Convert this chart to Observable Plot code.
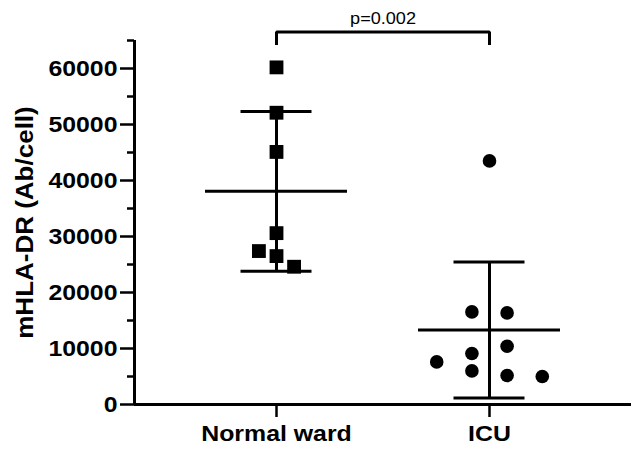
<!DOCTYPE html>
<html>
<head>
<meta charset="utf-8">
<script src="https://cdn.jsdelivr.net/npm/d3@7"></script>
<script src="https://cdn.jsdelivr.net/npm/@observablehq/plot@0.6"></script>
<style>
  html, body { margin: 0; padding: 0; background: #fff; }
  #chart svg { display: block; }
</style>
</head>
<body>
<div id="chart"></div>
<script>
// Categories
const groups = ["Normal ward", "ICU"];
// Normal ward values (squares) and their swarm column offsets
const normalValues = [60200, 52100, 45100, 30600, 27400, 26500, 24600];
const normalCols   = [0, 0, 0, 0, -1, 0, 1];
// ICU values (circles) and their swarm column offsets
const icuValues = [43500, 16540, 16360, 10410, 9110, 7610, 6000, 5180, 5000];
const icuCols   = [0, -1, 1, 1, -1, -3, -1, 1, 3];
// Y ticks
const yTicks = [0, 10000, 20000, 30000, 40000, 50000, 60000];
const yMinorTicks = [5000, 15000, 25000, 35000, 45000, 55000, 65000];
// Significance annotation
const pLabel = "p=0.002";
const bracketY = 66500;
const bracketLegY = 64200;

const colW = 0.0826;
const xMin = -0.6667, xMax = 1.6667;

const points = [
  ...normalValues.map((v, i) => ({g: 0, v, c: normalCols[i]})),
  ...icuValues.map((v, i) => ({g: 1, v, c: icuCols[i]}))
];
const stats = [normalValues, icuValues].map((vals, g) => ({
  g, mean: d3.mean(vals), sd: d3.deviation(vals)
}));

const svg = Plot.plot({
  width: 631,
  height: 452,
  marginLeft: 134,
  marginRight: 0,
  marginTop: 40,
  marginBottom: 48,
  style: {fontFamily: "'Liberation Sans', Arial, sans-serif", background: "#fff", overflow: "visible"},
  x: {domain: [xMin, xMax], axis: null},
  y: {domain: [0, 65000], axis: null},
  marks: [
    // minor y ticks
    Plot.axisY(yMinorTicks, {tickSize: 7, strokeWidth: 2.5, text: null, anchor: "left"}),
    // major y ticks + label
    Plot.axisY(yTicks, {
      anchor: "left", tickSize: 14, tickPadding: 3, strokeWidth: 2.5,
      fontSize: 22, fontWeight: "bold", fill: "#000",
      tickFormat: d => String(d),
      label: "mHLA-DR (Ab/cell)", labelAnchor: "center", labelOffset: 118, labelArrow: "none"
    }),
    // x ticks
    Plot.axisX([0, 1], {
      anchor: "bottom", tickSize: 13, tickPadding: 8, strokeWidth: 2.5,
      fontSize: 22, fontWeight: "bold", fill: "#000",
      tickFormat: d => groups[d], label: null
    }),
    // axis lines
    Plot.ruleX([xMin], {y1: 0, y2: 65000, strokeWidth: 3, stroke: "#000"}),
    Plot.ruleY([0], {x1: xMin, x2: xMax, strokeWidth: 3, stroke: "#000"}),
    // SD vertical bars
    Plot.ruleX(stats, {x: "g", y1: d => d.mean - d.sd, y2: d => d.mean + d.sd, strokeWidth: 3, stroke: "#000"}),
    // mean line
    Plot.ruleY(stats, {y: "mean", x1: d => d.g - 1/3, x2: d => d.g + 1/3, strokeWidth: 3, stroke: "#000"}),
    // SD caps
    Plot.ruleY(stats, {y: d => d.mean + d.sd, x1: d => d.g - 1/6, x2: d => d.g + 1/6, strokeWidth: 3, stroke: "#000"}),
    Plot.ruleY(stats, {y: d => d.mean - d.sd, x1: d => d.g - 1/6, x2: d => d.g + 1/6, strokeWidth: 3, stroke: "#000"}),
    // points
    Plot.dot(points.filter(d => d.g === 0), {x: d => d.g + d.c * colW, y: "v", symbol: "square", r: 7.8, fill: "#000", stroke: "none"}),
    Plot.dot(points.filter(d => d.g === 1), {x: d => d.g + d.c * colW, y: "v", symbol: "circle", r: 6.8, fill: "#000", stroke: "none"}),
    // significance bracket
    Plot.line([[0, bracketLegY], [0, bracketY], [1, bracketY], [1, bracketLegY]], {strokeWidth: 3, stroke: "#000", strokeLinejoin: "miter", strokeLinecap: "butt"}),
    Plot.text([pLabel], {x: 0.5, y: bracketY, text: d => d, dy: -13, fontSize: 16, fill: "#000"})
  ]
});
document.getElementById("chart").append(svg);
// enlarge the y-axis title slightly
svg.querySelectorAll('[aria-label="y-axis label"] text, [aria-label="y-axis label"]').forEach(el => {
  el.setAttribute("font-size", 23);
  el.style.fontSize = "23px";
});
// Stretch text horizontally to match the reference's wide rendering
svg.querySelectorAll("text").forEach(t => {
  const L = t.getComputedTextLength();
  if (L > 0) {
    t.setAttribute("textLength", (L * 1.13).toFixed(1));
    t.setAttribute("lengthAdjust", "spacingAndGlyphs");
  }
});
</script>
</body>
</html>
